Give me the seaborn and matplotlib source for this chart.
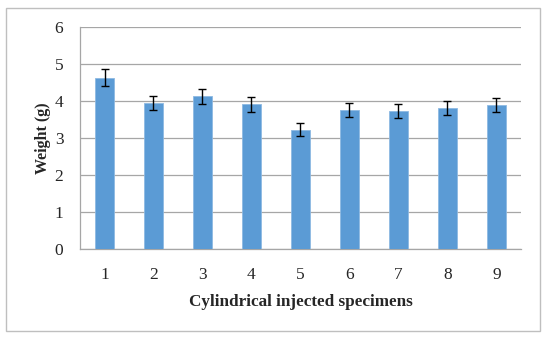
import matplotlib
matplotlib.use("Agg")
import matplotlib.pyplot as plt
import seaborn as sns
import pandas as pd
from matplotlib.patches import Rectangle

# -----------------------------
# DATA
# -----------------------------
specimens = ["1", "2", "3", "4", "5", "6", "7", "8", "9"]
weights = [4.63, 3.95, 4.13, 3.92, 3.23, 3.76, 3.73, 3.81, 3.90]
errors = [0.23, 0.19, 0.21, 0.20, 0.17, 0.19, 0.19, 0.19, 0.20]
y_ticks = [0, 1, 2, 3, 4, 5, 6]

df = pd.DataFrame({"specimen": specimens, "weight": weights})

# -----------------------------
# STYLE
# -----------------------------
sns.set_style("white")
plt.rcParams["font.family"] = ["Liberation Serif", "DejaVu Serif"]
BAR_COLOR = "#5B9BD5"
GRID_COLOR = "#A6A6A6"

fig = plt.figure(figsize=(5.5, 3.39), dpi=100)
ax = fig.add_axes([0.1455, 0.2646, 0.8015, 0.655])

sns.barplot(data=df, x="specimen", y="weight", color=BAR_COLOR,
            width=0.4, saturation=1, ax=ax, errorbar=None,
            edgecolor="#8DB9E2", linewidth=0.6, zorder=3)

ax.errorbar(range(len(specimens)), weights, yerr=errors, fmt="none",
            ecolor="black", elinewidth=1.0, capsize=3, capthick=1.0, zorder=4)

# axes & grid
ax.set_xlim(-0.5, len(specimens) - 0.5)
ax.set_ylim(0, 6)
ax.set_yticks(y_ticks)
ax.yaxis.grid(True, color=GRID_COLOR, linewidth=0.9, zorder=0)
ax.set_axisbelow(True)
for side in ["top", "right"]:
    ax.spines[side].set_visible(False)
for side in ["left", "bottom"]:
    ax.spines[side].set_color(GRID_COLOR)
    ax.spines[side].set_linewidth(0.9)

# tick marks at category boundaries on x, outside ticks on y
ax.set_xticks([i - 0.5 for i in range(len(specimens) + 1)], minor=True)
ax.tick_params(axis="x", which="major", length=0, labelsize=12.5, pad=12.5)
ax.tick_params(axis="x", which="minor", length=5, color=GRID_COLOR, width=0.9,
               direction="out")
ax.tick_params(axis="y", length=5, color=GRID_COLOR, width=0.9, labelsize=12.5,
               direction="out", pad=7)

ax.set_xlabel("Cylindrical injected specimens", fontsize=12.3, fontweight="bold",
              labelpad=8)
ax.set_ylabel("Weight (g)", fontsize=11.5, fontweight="bold", labelpad=2.5)

# outer chart border
fig.patches.append(Rectangle((0.011, 0.024), 0.971, 0.952, transform=fig.transFigure,
                             fill=False, edgecolor="#BFBFBF", linewidth=1.0))

fig.savefig("out.png", dpi=100)
